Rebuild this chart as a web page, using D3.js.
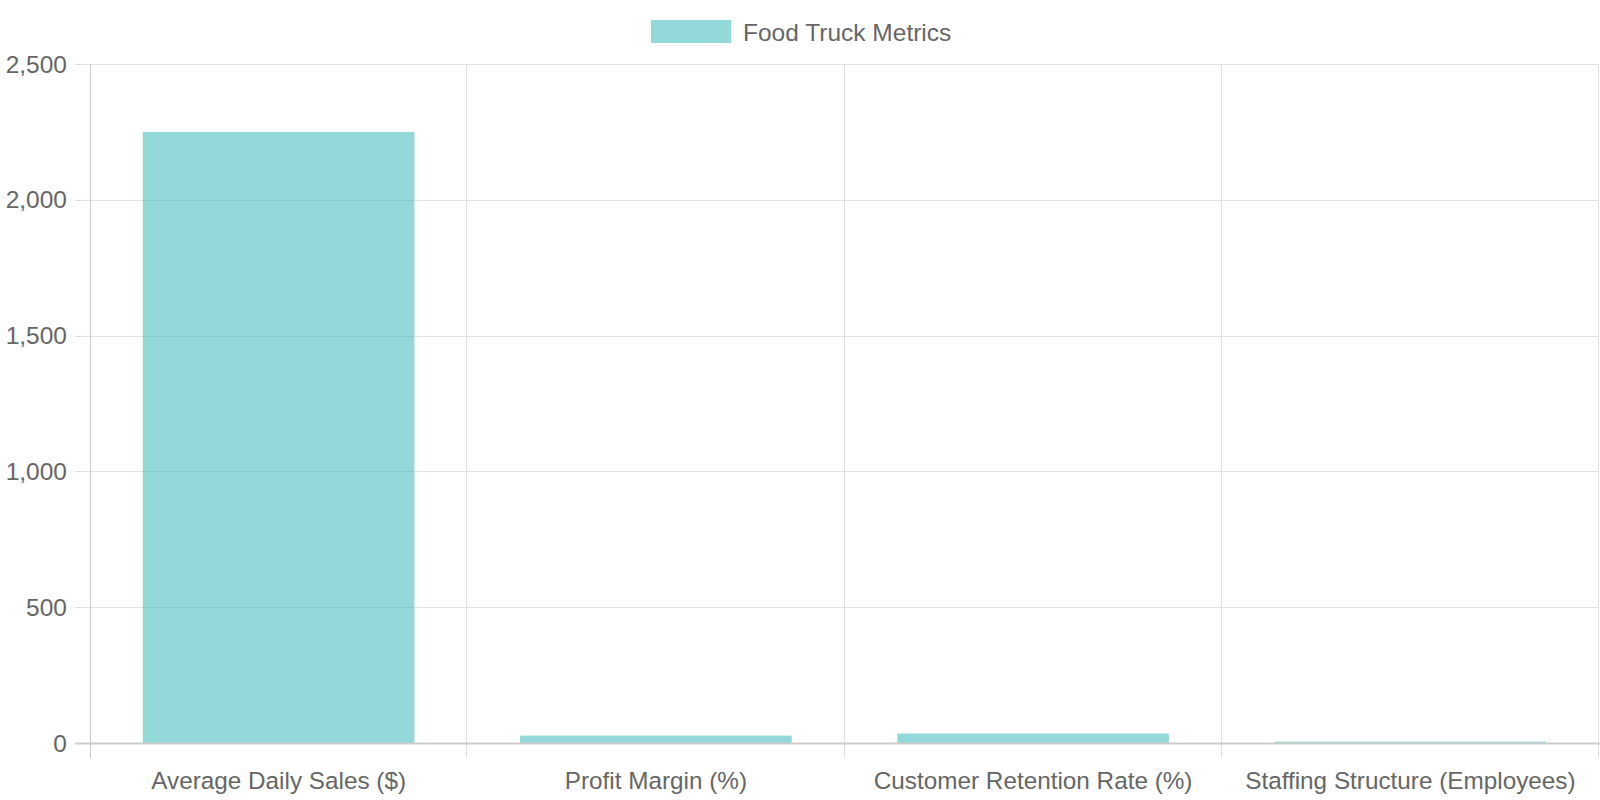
<!DOCTYPE html>
<html>
<head>
<meta charset="utf-8">
<script src="https://cdn.jsdelivr.net/npm/d3@7"></script>
<style>
  body { margin: 0; background: #fff; }
  svg { display: block; font-family: "Liberation Sans", Arial, sans-serif; }
</style>
</head>
<body>
<svg id="chart" width="1600" height="800"></svg>
<script>
// the data
var categories = ["Average Daily Sales ($)", "Profit Margin (%)", "Customer Retention Rate (%)", "Staffing Structure (Employees)"];
var values = [2250, 27, 35, 5];
var yTicks = [0, 500, 1000, 1500, 2000, 2500];
var seriesName = "Food Truck Metrics";

var svg = d3.select("#chart");
// plot area edges
var pL = 90, pR = 1599, pT = 64, pB = 743;

var x = d3.scaleBand().domain(categories).range([pL, pR]).paddingInner(0).paddingOuter(0);
var y = d3.scaleLinear().domain([0, 2500]).range([pB, pT]);

// horizontal grid + tick marks
svg.append("g").selectAll("line").data(yTicks.filter(d => d !== 0)).enter().append("line")
    .attr("x1", pL - 15).attr("x2", pR)
    .attr("y1", d => Math.round(y(d)) + 0.5).attr("y2", d => Math.round(y(d)) + 0.5)
    .attr("stroke", "#e0e0e0").attr("stroke-width", 1);

// vertical grid lines at category boundaries
var bounds = categories.map(c => x(c)).concat([pR]);
svg.append("g").selectAll("line").data(bounds.slice(1)).enter().append("line")
    .attr("x1", d => Math.round(d) - 0.5).attr("x2", d => Math.round(d) - 0.5)
    .attr("y1", pT).attr("y2", pB + 15)
    .attr("stroke", "#e0e0e0");

// y tick labels
svg.append("g").selectAll("text").data(yTicks).enter().append("text")
    .attr("x", 67).attr("y", d => y(d)).attr("dy", "0.35em")
    .attr("text-anchor", "end").attr("fill", "#666").attr("font-size", 24.5)
    .text(d => d3.format(",")(d));

// bars
var bw = x.bandwidth() * 0.72;
svg.append("g").selectAll("rect").data(values).enter().append("rect")
    .attr("x", (d, i) => x(categories[i]) + (x.bandwidth() - bw) / 2)
    .attr("width", bw)
    .attr("y", d => y(d))
    .attr("height", d => pB - y(d))
    .attr("fill", "rgba(75,192,192,0.6)");

// axis lines
svg.append("line").attr("x1", pL + 0.5).attr("x2", pL + 0.5).attr("y1", pT).attr("y2", pB + 15)
    .attr("stroke", "#ccc");
svg.append("line").attr("x1", pL - 15).attr("x2", pR + 1).attr("y1", pB + 0.5).attr("y2", pB + 0.5)
    .attr("stroke", "#ccc").attr("stroke-width", 2);

// category labels
svg.append("g").selectAll("text").data(categories).enter().append("text")
    .attr("x", d => x(d) + x.bandwidth() / 2).attr("y", 780).attr("dy", "0.35em")
    .attr("text-anchor", "middle").attr("fill", "#666").attr("font-size", 24.3)
    .text(d => d);

// legend
var lg = svg.append("g");
lg.append("rect").attr("x", 651).attr("y", 20).attr("width", 80).attr("height", 23)
    .attr("fill", "rgba(75,192,192,0.6)");
lg.append("text").attr("x", 743).attr("y", 32).attr("dy", "0.35em")
    .attr("fill", "#666").attr("font-size", 24.5).text(seriesName);
</script>
</body>
</html>
